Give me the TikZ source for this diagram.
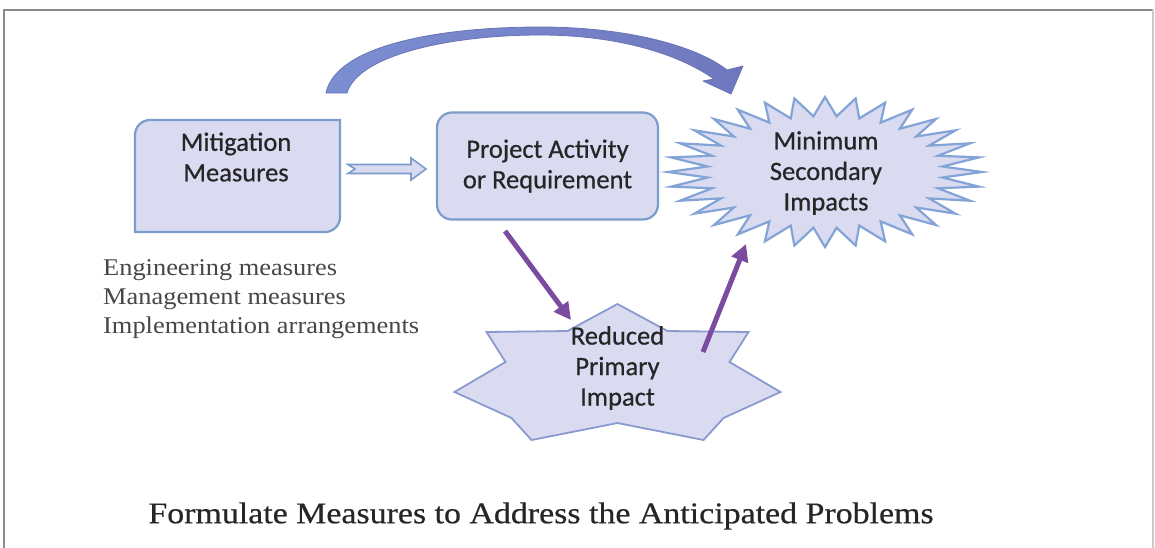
\documentclass[tikz,border=0pt]{standalone}
\usepackage{fontspec}
\setmainfont{Liberation Serif}
\newfontfamily\calibfont[FakeBold=0.6]{Carlito}
\newfontfamily\captionfont[FakeBold=0.5]{Liberation Serif}
\usetikzlibrary{arrows.meta}
\definecolor{boxfill}{HTML}{DADBF1}
\definecolor{boxline}{HTML}{7C9CCC}
\definecolor{burstline}{HTML}{82A4D6}
\definecolor{starline}{HTML}{8A9AD0}
\definecolor{purp}{HTML}{7A4B9E}
\definecolor{arcA}{HTML}{7C8ED2}
\definecolor{arcB}{HTML}{6F78BE}
\definecolor{arcline}{HTML}{6A74B4}
\definecolor{framec}{HTML}{8C8C8C}
\definecolor{txt}{HTML}{262626}
\tikzset{
  boxstyle/.style={fill=boxfill, draw=boxline, line width=2.2pt},
  burststyle/.style={fill=boxfill, draw=burstline, line width=2.2pt, line join=miter},
  starstyle/.style={fill=boxfill, draw=starline, line width=1.8pt, line join=miter},
  boxtext/.style={font=\calibfont\fontsize{26.5}{30.5}\selectfont, text=txt, align=center, inner sep=0pt},
  purparrow/.style={draw=purp, line width=5pt, -{Triangle[length=17pt,width=17pt]}},
}
\begin{document}
\begin{tikzpicture}[x=1pt,y=-1pt]
\useasboundingbox (0,0) rectangle (1155,547);
\fill[white] (0,0) rectangle (1155,547);
% frame
\draw[framec, line width=2.5pt] (4,560) -- (4,10) -- (1153,10);
\draw[framec!45, line width=1.5pt] (1153,10) -- (1153,560);

% curved arrow
\shadedraw[left color=arcA, right color=arcB, draw=arcline, line width=0.8pt, line join=round]
  (326,93) .. controls (336,45) and (440,27) .. (540,27)
  .. controls (630,27) and (698,47) .. (727,70)
  -- (743,66) -- (731,94) -- (703,81) -- (714,79)
  .. controls (680,55) and (620,35) .. (540,35)
  .. controls (450,35) and (358,55) .. (347,93) -- cycle;

% mitigation box (diagonal rounded corners)
\draw[boxstyle] (135,232) -- (135,135) arc[start angle=180, end angle=270, radius=15] -- (340,120) -- (340,217) arc[start angle=0, end angle=90, radius=15] -- cycle;
\node[boxtext] (mitig) at (236,157) {Mitigation\\Measures};

% project box
\node[boxstyle, rounded corners=15pt, minimum width=221pt, minimum height=107pt] (proj) at (547.5,166) {};
\node[boxtext] (projtext) at (547.5,166) {Project Activity\\or Requirement};

% hollow block arrow
\draw[fill=boxfill, draw=boxline, line width=1.6pt, line join=miter]
  (348,164.5) -- (411,164.5) -- (411,158) -- (426,169) -- (411,180) -- (411,173.5) -- (348,173.5) -- (355,169) -- cycle;

% starburst (32 points)
\draw[burststyle] (825,97) \foreach \i in {1,...,63}{
   -- ({825+(157-39*mod(\i,2))*cos(90+\i*5.625)}, {172-(75-19*mod(\i,2))*sin(90+\i*5.625)})
  } -- cycle;
\node[boxtext] (mini) at (826,173) {Minimum\\Secondary\\Impacts};

% seven-point star
\draw[starstyle] (617.5,304) -- (667.5,331) -- (748.5,332) -- (729.5,362) -- (780.5,392) -- (723.5,418)
  -- (703.5,440) -- (617.5,423) -- (531.5,440) -- (511.5,418) -- (454.5,392) -- (505.5,362)
  -- (486.5,332) -- (567.5,331) -- cycle;
\node[boxtext] (reduced) at (617.5,368) {Reduced\\Primary\\Impact};

% purple arrows
\coordinate (p1s) at (505,231);
\coordinate (p1e) at (571,320);
\coordinate (p2s) at (703,352);
\coordinate (p2e) at (746,244);
\draw[purparrow] (p1s) -- (p1e);
\draw[purparrow] (p2s) -- (p2e);

% list text
\node[anchor=west, inner sep=0pt, text=txt!85] (list) at (103,299)
  {\scalebox{1.1}[1]{\fontsize{24}{29}\selectfont\begin{tabular}{@{}l@{}}Engineering measures\\Management measures\\Implementation arrangements\end{tabular}}};

% caption
\node[inner sep=0pt, text=txt] (caption) at (541,516)
  {\scalebox{1.13}[1]{\captionfont\fontsize{30}{36}\selectfont Formulate Measures to Address the Anticipated Problems}};
\end{tikzpicture}
\end{document}
